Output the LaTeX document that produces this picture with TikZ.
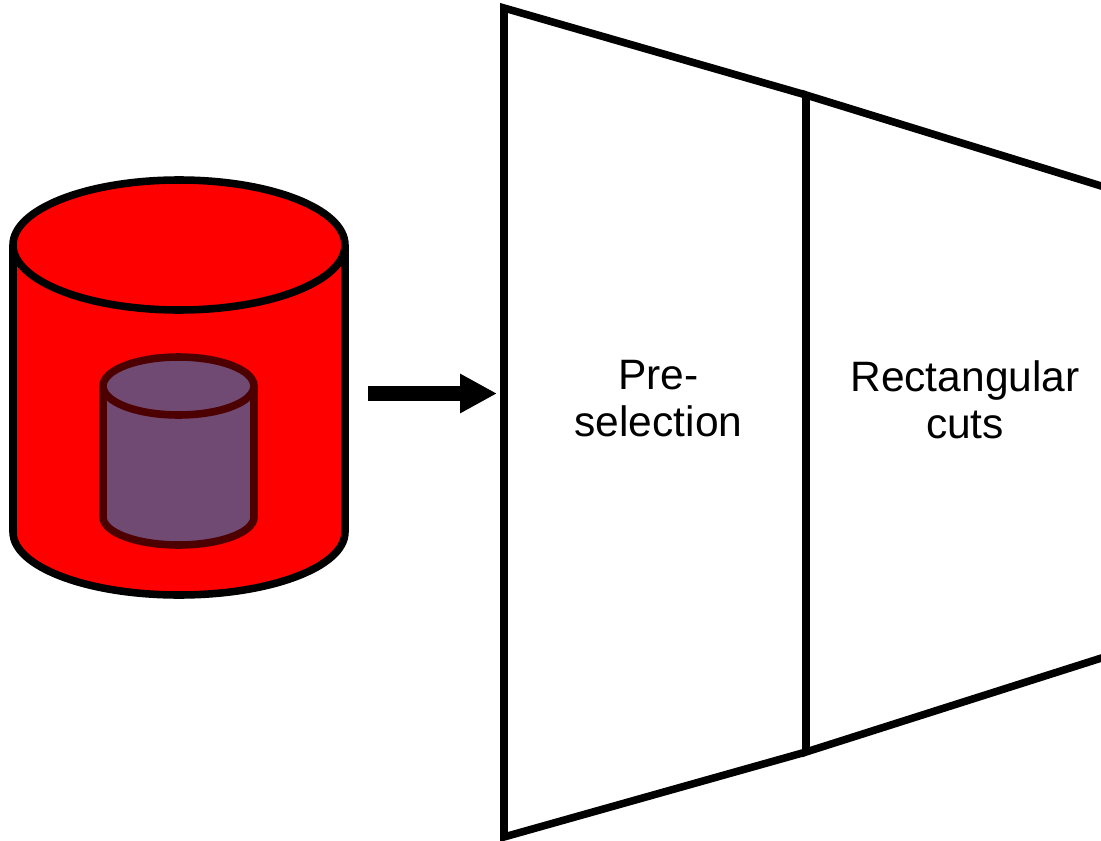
\documentclass[tikz,border=0pt]{standalone}
\usepackage{fontspec}
\setmainfont{Liberation Sans}
\usetikzlibrary{arrows.meta}
\definecolor{barrel}{RGB}{255,0,0}
\definecolor{subset}{RGB}{112,74,115}
\definecolor{subsetline}{RGB}{77,0,0}
\begin{document}
\begin{tikzpicture}[scale=0.2,line join=miter]
            \tikzset{every node/.style={inner sep=0pt,align=center,font=\fontsize{24.2}{26.6}\selectfont}}
            \tikzset{outline/.style={line width=4.3pt}}
            \useasboundingbox (0,0) rectangle (110.1,-84.1);
            % big cylinder
            \draw [outline,black,fill=barrel] (1.3,-24.5) -- (1.3,-53.2) arc (180:360:16.6 and 6.3) -- (34.5,-24.5);
            \draw [outline,black,fill=barrel] (17.9,-24.5) ellipse (16.6 and 6.5);
            % small cylinder
            \draw [outline,subsetline,fill=subset] (10.3,-38.6) -- (10.3,-51.7) arc (180:360:7.55 and 2.8) -- (25.4,-38.6);
            \draw [outline,subsetline,fill=subset] (17.85,-38.6) ellipse (7.55 and 2.9);
            % arrow
            \coordinate (source) at (36.8,-39.35);
            \coordinate (target) at (49.7,-39.35);
            \draw [line width=8.5pt,black,-{Triangle[length=21pt,width=21pt]}] (source) -- (target);
            % funnel
            \coordinate (pretop) at (50.4,-0.8);
            \coordinate (prebottom) at (50.4,-83.7);
            \coordinate (midtop) at (80.6,-9.5);
            \coordinate (midbottom) at (80.6,-75.2);
            \coordinate (righttop) at (111.1,-18.9);
            \coordinate (rightbottom) at (111.1,-65.5);
            \draw [outline,black] (midtop) -- (pretop) -- (prebottom) -- (midbottom);
            \draw [outline,black] (righttop) -- (midtop) -- (midbottom) -- (rightbottom);
            \node (preselection) at (65.85,-39.85) {Pre-\\selection};
            \node (rectangular) at (96.5,-40) {Rectangular\\cuts};
        \end{tikzpicture}
\end{document}
